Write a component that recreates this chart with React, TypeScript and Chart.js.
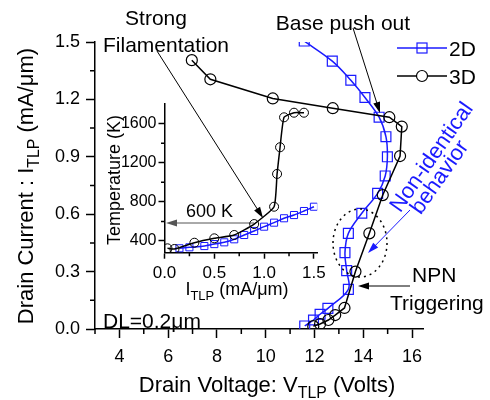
import React, { useEffect, useRef } from 'react';
import { Chart, registerables } from 'chart.js';

Chart.register(...registerables);

const FONT = "'Liberation Sans', Arial, Helvetica, sans-serif";
const BLUE = '#1a1aff';
const BLACK = '#000000';

// ---- main chart data: Drain Voltage (V) vs Drain Current (mA/um)
const voltage2D = [11.6, 11.96, 12.23, 12.55, 13.39, 13.32, 13.25, 13.39, 13.94, 14.59, 14.9, 14.99, 14.93, 14.65, 14.07, 13.49, 12.73, 11.58];
const current2D = [0.016, 0.047, 0.077, 0.108, 0.207, 0.305, 0.399, 0.5, 0.605, 0.709, 0.8, 0.9, 1.005, 1.107, 1.21, 1.3, 1.4, 1.505];

const voltage3D = [11.95, 12.23, 12.57, 12.85, 13.23, 13.68, 14.25, 14.8, 15.51, 15.58, 15.07, 12.75, 10.29, 7.73, 6.97];
const current3D = [0.015, 0.026, 0.047, 0.073, 0.11, 0.3, 0.5, 0.7, 0.904, 1.058, 1.107, 1.154, 1.205, 1.305, 1.405];

const xTicksMain = [4, 6, 8, 10, 12, 14, 16];
const xMinorMain = [3, 5, 7, 9, 11, 13, 15];
const yTicksMain = [0.0, 0.3, 0.6, 0.9, 1.2, 1.5];
const yMinorMain = [0.15, 0.45, 0.75, 1.05, 1.35];

// ---- inset data: I_TLP (mA/um) vs Temperature (K)
const insetI2D = [0.15, 0.25, 0.4, 0.5, 0.6, 0.7, 0.8, 0.9, 1.0, 1.1, 1.2, 1.3, 1.4, 1.5];
const insetT2D = [325, 335, 348, 368, 386, 417, 461, 502, 546, 587, 632, 665, 706, 750];

const insetI3D = [0.03, 0.1, 0.3, 0.5, 0.7, 0.9, 1.1, 1.13, 1.16, 1.2, 1.3, 1.4];
const insetT3D = [325, 318, 382, 427, 461, 573, 750, 1085, 1358, 1664, 1711, 1711];

const xTicksInset = [0, 0.5, 1.0, 1.5];
const xMinorInset = [0.25, 0.75, 1.25];
const yTicksInset = [400, 800, 1200, 1600];
const yMinorInset = [600, 1000, 1400];

type Part = { t: string; sub?: boolean };

function richText(ctx: CanvasRenderingContext2D, parts: Part[], x: number, y: number, size: number, rot = 0, color = '#000', align: 'center' | 'left' = 'center') {
  ctx.save();
  ctx.translate(x, y);
  ctx.rotate(rot);
  ctx.fillStyle = color;
  ctx.textBaseline = 'alphabetic';
  ctx.textAlign = 'left';
  const subSize = size * 0.72;
  let total = 0;
  const widths = parts.map((p) => {
    ctx.font = `${p.sub ? subSize : size}px ${FONT}`;
    const w = ctx.measureText(p.t).width;
    total += w;
    return w;
  });
  let cx = align === 'center' ? -total / 2 : 0;
  parts.forEach((p, i) => {
    ctx.font = `${p.sub ? subSize : size}px ${FONT}`;
    ctx.fillText(p.t, cx, p.sub ? size * 0.28 : 0);
    cx += widths[i];
  });
  ctx.restore();
}

function arrow(ctx: CanvasRenderingContext2D, x1: number, y1: number, x2: number, y2: number, color: string, lw = 1, head = 11, hw = 3.5) {
  const a = Math.atan2(y2 - y1, x2 - x1);
  ctx.save();
  ctx.strokeStyle = color;
  ctx.fillStyle = color;
  ctx.lineWidth = lw;
  ctx.beginPath();
  ctx.moveTo(x1, y1);
  ctx.lineTo(x2 - Math.cos(a) * head * 0.8, y2 - Math.sin(a) * head * 0.8);
  ctx.stroke();
  ctx.beginPath();
  ctx.moveTo(x2, y2);
  ctx.lineTo(x2 - Math.cos(a) * head - Math.sin(a) * hw, y2 - Math.sin(a) * head + Math.cos(a) * hw);
  ctx.lineTo(x2 - Math.cos(a) * head + Math.sin(a) * hw, y2 - Math.sin(a) * head - Math.cos(a) * hw);
  ctx.closePath();
  ctx.fill();
  ctx.restore();
}

function minorTicks(chart: any, xId: string, yId: string, xs: number[], ys: number[], len: number) {
  const ctx = chart.ctx as CanvasRenderingContext2D;
  const sx = chart.scales[xId];
  const sy = chart.scales[yId];
  ctx.save();
  ctx.strokeStyle = '#000';
  ctx.lineWidth = 1.5;
  ctx.beginPath();
  xs.forEach((v) => {
    const p = sx.getPixelForValue(v);
    ctx.moveTo(p, sx.top);
    ctx.lineTo(p, sx.top + len);
  });
  ys.forEach((v) => {
    const p = sy.getPixelForValue(v);
    ctx.moveTo(sy.right - len, p);
    ctx.lineTo(sy.right, p);
  });
  ctx.stroke();
  ctx.restore();
}

const mainDecor = {
  id: 'mainDecor',
  afterDraw(chart: any) {
    const ctx = chart.ctx as CanvasRenderingContext2D;
    minorTicks(chart, 'x', 'y', xMinorMain, yMinorMain, 5);

    // axis titles
    richText(ctx, [{ t: 'Drain Current : I' }, { t: 'TLP', sub: true }, { t: ' (mA/\u03bcm)' }], 33, 186, 22, -Math.PI / 2);
    richText(ctx, [{ t: 'Drain Voltage: V' }, { t: 'TLP', sub: true }, { t: ' (Volts)' }], 267, 392, 22);

    // inset axis titles
    richText(ctx, [{ t: 'Temperature (K)' }], 120, 180, 18, -Math.PI / 2);
    richText(ctx, [{ t: 'I' }, { t: 'TLP', sub: true }, { t: ' (mA/\u03bcm)' }], 237, 295, 18);

    // annotations
    richText(ctx, [{ t: 'Strong' }], 156, 25, 21);
    richText(ctx, [{ t: 'Filamentation' }], 166, 52, 21);
    richText(ctx, [{ t: 'Base push out' }], 343, 30, 21);
    richText(ctx, [{ t: 'NPN' }], 412, 282, 21, 0, '#000', 'left');
    richText(ctx, [{ t: 'Triggering' }], 390, 310, 21, 0, '#000', 'left');
    richText(ctx, [{ t: 'DL=0.2\u03bcm' }], 103, 328, 21, 0, '#000', 'left');
    richText(ctx, [{ t: '600 K' }], 186, 217, 18, 0, '#000', 'left');

    const ang = -55 * Math.PI / 180;
    richText(ctx, [{ t: 'Non-identical' }], 437, 161, 22, ang, BLUE);
    richText(ctx, [{ t: 'behavior' }], 445, 181, 22, ang, BLUE);

    // arrows
    arrow(ctx, 157, 51, 263, 218, '#000', 1);
    arrow(ctx, 254, 223, 166, 223, '#555', 1);
    arrow(ctx, 353, 28, 380, 113, '#000', 1);
    arrow(ctx, 410, 286, 358, 286, '#000', 1);
    arrow(ctx, 410, 210, 368, 253, BLUE, 1);

    // dotted ellipse
    ctx.save();
    ctx.strokeStyle = '#000';
    ctx.lineWidth = 1.5;
    ctx.setLineDash([2, 4]);
    ctx.beginPath();
    ctx.ellipse(360, 243, 27, 34, 0, 0, Math.PI * 2);
    ctx.stroke();
    ctx.restore();

    // legend
    ctx.save();
    ctx.lineWidth = 1.5;
    ctx.strokeStyle = BLUE;
    ctx.beginPath();
    ctx.moveTo(397, 48);
    ctx.lineTo(447, 48);
    ctx.stroke();
    ctx.lineWidth = 1.2;
    ctx.strokeRect(422 - 5, 48 - 5, 10, 10);
    ctx.strokeStyle = BLACK;
    ctx.lineWidth = 1.5;
    ctx.beginPath();
    ctx.moveTo(397, 76);
    ctx.lineTo(447, 76);
    ctx.stroke();
    ctx.lineWidth = 1.2;
    ctx.fillStyle = '#fff';
    ctx.beginPath();
    ctx.arc(422, 76, 5.5, 0, Math.PI * 2);
    ctx.fill();
    ctx.stroke();
    ctx.restore();
    richText(ctx, [{ t: '2D' }], 449, 56, 21, 0, '#000', 'left');
    richText(ctx, [{ t: '3D' }], 449, 84, 21, 0, '#000', 'left');
  },
};

const insetDecor = {
  id: 'insetDecor',
  afterDraw(chart: any) {
    minorTicks(chart, 'x', 'y', xMinorInset, yMinorInset, 3.5);
  },
};

function axisCommon(tickLen: number, size: number, pad: number) {
  return {
    grid: { drawOnChartArea: false, drawTicks: true, tickLength: tickLen, tickWidth: 1.5, tickColor: '#000' },
    border: { display: true, color: '#000', width: 1.5 },
    ticks: { color: '#000', font: { family: FONT, size }, padding: pad, autoSkip: false, maxRotation: 0, minRotation: 0 },
  };
}

export default function App() {
  const mainRef = useRef<HTMLCanvasElement>(null);
  const insetRef = useRef<HTMLCanvasElement>(null);

  useEffect(() => {
    const mainX = axisCommon(9, 18, 8);
    const mainY = axisCommon(9, 18, 6);
    const main = new Chart(mainRef.current as HTMLCanvasElement, {
      type: 'scatter',
      data: {
        datasets: [
          {
            label: '3D',
            data: voltage3D.map((v, i) => ({ x: v, y: current3D[i] })),
            showLine: true,
            borderColor: BLACK,
            borderWidth: 1.5,
            pointStyle: 'circle',
            pointRadius: 5.5,
            pointBorderWidth: 1.2,
            pointBorderColor: BLACK,
            pointBackgroundColor: 'rgba(0,0,0,0)',
            tension: 0,
          },
          {
            label: '2D',
            data: voltage2D.map((v, i) => ({ x: v, y: current2D[i] })),
            showLine: true,
            borderColor: BLUE,
            borderWidth: 1.5,
            pointStyle: 'rect',
            pointRadius: 7,
            pointBorderWidth: 1.2,
            pointBorderColor: BLUE,
            pointBackgroundColor: 'rgba(0,0,0,0)',
            tension: 0.35,
          },
        ],
      },
      options: {
        responsive: false,
        animation: false,
        devicePixelRatio: 1,
        layout: { padding: { left: 0, top: 42, right: 67, bottom: 0 } },
        plugins: { legend: { display: false }, tooltip: { enabled: false } },
        scales: {
          x: {
            type: 'linear',
            min: 3,
            max: 16.45,
            ...mainX,
            ticks: { ...mainX.ticks, callback: (v: any) => String(v) },
            afterBuildTicks: (s: any) => { s.ticks = xTicksMain.map((v) => ({ value: v })); },
            afterFit: (s: any) => { s.height = 71; },
          },
          y: {
            type: 'linear',
            min: 0,
            max: 1.5,
            ...mainY,
            ticks: { ...mainY.ticks, callback: (v: any) => Number(v).toFixed(1) },
            afterBuildTicks: (s: any) => { s.ticks = yTicksMain.map((v) => ({ value: v })); },
            afterFit: (s: any) => { s.width = 95; },
          },
        },
      } as any,
      plugins: [mainDecor],
    });

    const inX = axisCommon(6, 17, 4);
    const inY = axisCommon(6, 16, 2);
    const inset = new Chart(insetRef.current as HTMLCanvasElement, {
      type: 'scatter',
      data: {
        datasets: [
          {
            label: '3D',
            data: insetI3D.map((v, i) => ({ x: v, y: insetT3D[i] })),
            showLine: true,
            borderColor: BLACK,
            borderWidth: 1.5,
            pointStyle: 'circle',
            pointRadius: 4.5,
            pointBorderWidth: 1,
            pointBorderColor: BLACK,
            pointBackgroundColor: 'rgba(0,0,0,0)',
            tension: 0.15,
          },
          {
            label: '2D',
            data: insetI2D.map((v, i) => ({ x: v, y: insetT2D[i] })),
            showLine: true,
            borderColor: BLUE,
            borderWidth: 1.5,
            pointStyle: 'rect',
            pointRadius: 5,
            pointBorderWidth: 1,
            pointBorderColor: BLUE,
            pointBackgroundColor: 'rgba(0,0,0,0)',
            tension: 0.3,
          },
        ],
      },
      options: {
        responsive: false,
        animation: false,
        devicePixelRatio: 1,
        layout: { padding: { left: 0, top: 14, right: 11.7, bottom: 0 } },
        plugins: { legend: { display: false }, tooltip: { enabled: false } },
        scales: {
          x: {
            type: 'linear',
            min: 0,
            max: 1.533,
            ...inX,
            ticks: { ...inX.ticks, callback: (v: any) => Number(v).toFixed(1) },
            afterBuildTicks: (s: any) => { s.ticks = xTicksInset.map((v) => ({ value: v })); },
            afterFit: (s: any) => { s.height = 57.3; },
          },
          y: {
            type: 'linear',
            min: 280,
            max: 1800,
            ...inY,
            ticks: { ...inY.ticks, callback: (v: any) => String(v) },
            afterBuildTicks: (s: any) => { s.ticks = yTicksInset.map((v) => ({ value: v })); },
            afterFit: (s: any) => { s.width = 74.5; },
          },
        },
      } as any,
      plugins: [insetDecor],
    });

    return () => {
      main.destroy();
      inset.destroy();
    };
  }, []);

  return (
    <div style={{ position: 'fixed', left: 0, top: 0, width: 490, height: 400, background: '#fff', overflow: 'hidden' }}>
      <canvas ref={mainRef} width={490} height={400} style={{ position: 'absolute', left: 0, top: 0, width: 490, height: 400 }} />
      <canvas ref={insetRef} width={240} height={220} style={{ position: 'absolute', left: 90, top: 90, width: 240, height: 220 }} />
    </div>
  );
}
